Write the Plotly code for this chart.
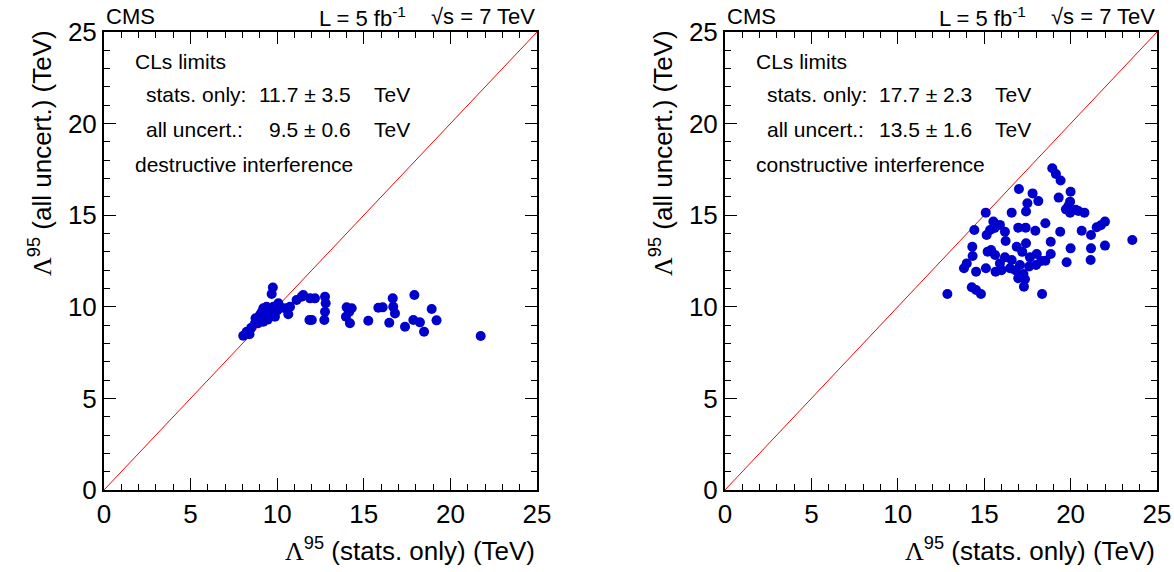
import plotly.graph_objects as go

# Expected limits from pseudo-experiments, destructive interference (TeV)
destr_stat = [8.04, 8.24, 8.40, 8.50, 8.72, 8.75, 9.00, 8.90, 9.20, 9.20, 9.10, 9.39,
              9.45, 9.58, 9.78, 9.87, 10.07, 9.68, 9.75, 9.50, 10.00, 10.20, 10.45, 10.64,
              10.74, 11.12, 11.41, 11.50, 11.90, 12.18, 12.00, 11.86, 12.76, 12.80, 12.76,
              12.72, 14.01, 14.30, 14.16, 13.97, 14.20, 15.26, 15.84, 16.09, 16.67, 16.70,
              16.80, 16.47, 17.92, 17.38, 17.86, 18.24, 18.48, 18.92, 19.20, 21.75]
destr_all = [8.42, 8.64, 8.50, 8.85, 9.10, 9.37, 9.55, 9.10, 9.19, 9.92, 9.70, 10.00,
             9.30, 9.64, 10.00, 9.46, 10.19, 10.70, 11.05, 9.75, 9.80, 9.95, 9.92, 9.59,
             10.00, 10.37, 10.55, 10.64, 10.46, 10.46, 9.28, 9.28, 10.55, 10.19, 9.73,
             9.28, 9.97, 9.92, 9.73, 9.46, 9.10, 9.24, 9.95, 9.97, 10.46, 10.00,
             9.64, 9.13, 10.64, 8.91, 9.28, 9.15, 8.64, 9.88, 9.26, 8.41]

# Expected limits from pseudo-experiments, constructive interference (TeV)
constr_stat = [18.94, 19.15, 19.42, 17.01, 17.80, 20.00, 19.31, 18.13, 17.50, 17.42,
               19.97, 19.87, 19.73, 19.97, 20.30, 20.45, 20.80, 16.59, 15.09, 15.53,
               15.91, 15.60, 15.34, 15.14, 14.43, 16.97, 17.40, 17.96, 18.54, 19.40,
               20.64, 21.18, 21.51, 21.75, 21.99, 23.57, 21.99, 21.18, 21.16, 20.00,
               19.77, 18.85, 18.85, 18.54, 18.04, 18.00, 17.65, 17.42, 16.88, 16.24,
               14.31, 14.33, 15.20, 15.63, 16.20, 16.59, 15.91, 13.99, 13.83, 14.53,
               15.10, 15.66, 16.49, 17.07, 17.27, 17.36, 16.97, 17.30, 12.87, 14.28,
               14.53, 14.81, 18.35, 16.80, 17.60, 16.00, 17.20, 18.30, 15.40, 16.20]
constr_all = [17.56, 17.25, 16.89, 16.43, 16.19, 16.28, 15.96, 15.77, 15.65, 15.20,
              15.74, 15.50, 15.32, 15.14, 15.30, 15.23, 15.14, 15.14, 15.14, 14.65,
              14.47, 14.30, 14.19, 13.92, 14.19, 14.32, 14.32, 14.15, 14.56, 14.10,
              14.15, 13.92, 14.34, 14.45, 14.65, 13.65, 13.34, 13.19, 12.55, 13.19,
              12.43, 13.55, 12.88, 12.52, 12.88, 12.28, 12.70, 13.47, 13.28, 13.59,
              13.28, 12.77, 13.01, 12.83, 12.70, 12.55, 12.37, 12.37, 12.10, 11.92,
              12.10, 11.92, 12.10, 12.28, 11.79, 11.50, 11.56, 11.10, 10.70, 11.07,
              10.92, 10.70, 10.70, 12.00, 12.20, 12.00, 13.00, 12.50, 13.10, 14.10]

# y = x reference line
diag = [0, 25]

W, H = 1174, 572
FONT = "Liberation Sans"
LAM = '<span style="font-family:Liberation Serif">Λ</span><sup>95</sup>'


def px(x):
    return x / W


def py(y):
    return 1 - y / H


fig = go.Figure()

panels = [
    ("x", "y", destr_stat, destr_all),
    ("x2", "y2", constr_stat, constr_all),
]
for xa, ya, xs, ys in panels:
    fig.add_trace(go.Scatter(x=diag, y=diag, mode="lines", xaxis=xa, yaxis=ya,
                             line=dict(color="#ff0000", width=1), hoverinfo="skip"))
    fig.add_trace(go.Scatter(x=xs, y=ys, mode="markers", xaxis=xa, yaxis=ya,
                             marker=dict(color="#0000cc", size=10, line=dict(width=0))))

axis_common = dict(
    range=[0, 25], tick0=0, dtick=5, ticks="inside", ticklen=12, tickwidth=1,
    tickcolor="black", showline=True, linewidth=2, linecolor="black",
    mirror="ticks", showgrid=False, zeroline=False, automargin=False,
    minor=dict(dtick=1, ticks="inside", ticklen=6, tickwidth=1, tickcolor="black",
               showgrid=False),
    tickfont=dict(family=FONT, size=26, color="black"),
)

yb, yt = py(490), py(32)
fig.update_layout(
    width=W, height=H,
    margin=dict(l=0, r=0, t=0, b=0),
    paper_bgcolor="white", plot_bgcolor="white",
    showlegend=False,
    xaxis=dict(domain=[px(104), px(537)], anchor="y", **axis_common),
    yaxis=dict(domain=[yb, yt], anchor="x", **axis_common),
    xaxis2=dict(domain=[px(725), px(1157)], anchor="y2", **axis_common),
    yaxis2=dict(domain=[yb, yt], anchor="x2", **axis_common),
)

ann = []


def text(x, y, s, xanchor="left", size=22, **kw):
    ann.append(dict(x=px(x), y=py(y), xref="paper", yref="paper", text=s,
                    showarrow=False, xanchor=xanchor, yanchor="middle",
                    font=dict(family=FONT, size=size, color="black"), **kw))


for off, stat, allu, kind in [
    (0, "11.7 ± 3.5", "9.5 ± 0.6", "destructive interference"),
    (621, "17.7 ± 2.3", "13.5 ± 1.6", "constructive interference"),
]:
    left = 104 + off
    right = 537 if off == 0 else 1157
    # header line
    text(left, 17, "CMS", size=22)
    text(right - 129, 17, "L = 5 fb<sup>-1</sup>", xanchor="right", size=22)
    text(right, 17, "√s = 7 TeV", xanchor="right", size=22)
    # statistics box
    text(133 + off, 61, "CLs limits", size=21)
    text(144 + off, 94, "stats. only:", size=21)
    text(144 + off, 129, "all uncert.:", size=21)
    text(353 + off, 94, stat, xanchor="right", size=21)
    text(353 + off, 129, allu, xanchor="right", size=21)
    text(372 + off, 94, "TeV", size=21)
    text(372 + off, 129, "TeV", size=21)
    text(133 + off, 165, kind, size=21)
    # axis titles
    text(right, 549, LAM + " (stats. only) (TeV)", xanchor="right", size=26)
    ann.append(dict(x=px(40 + off), y=py(28), xref="paper", yref="paper",
                    text=LAM + " (all uncert.) (TeV)", textangle=-90,
                    showarrow=False, xanchor="center", yanchor="top",
                    font=dict(family=FONT, size=26, color="black")))

fig.update_layout(annotations=ann)
fig.write_html("out.html")
